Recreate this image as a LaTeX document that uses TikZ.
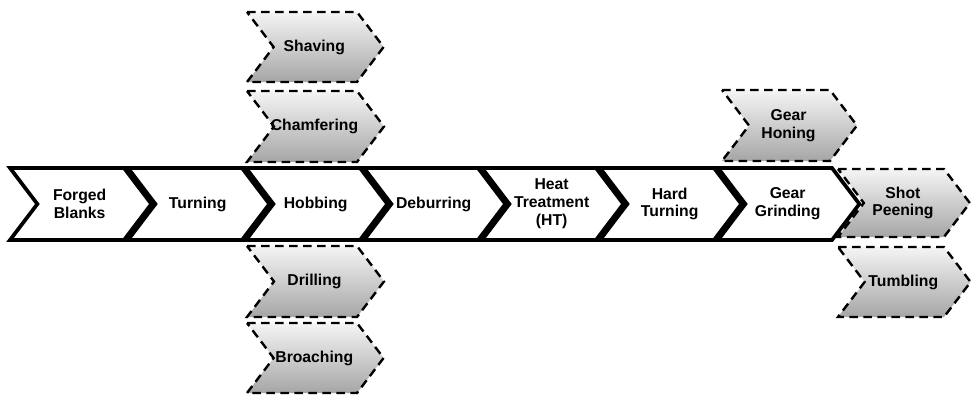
\documentclass[tikz,border=0pt]{standalone}
\usepackage{fontspec}
\setmainfont{Liberation Sans}
\usetikzlibrary{calc}

\tikzset{
  stagebox/.style={draw=black, line width=2.8pt, fill=white, line join=miter},
  optbox/.style={draw=black, line width=1.8pt, dash pattern=on 6.5pt off 4pt,
    top color=black!4, bottom color=black!35},
  stagetext/.style={font=\fontsize{11.8}{13.4}\selectfont\bfseries, align=center, inner sep=0pt}
}

% #1 name, #2 left x, #3 top y, #4 width, #5 height, #6 style, #7 text
\newcommand{\stagechev}[7]{%
  \draw[#6] (#2,#3) -- ++(#4,0) -- ++({0.38*#5},{#5/2}) -- ++({-0.38*#5},{#5/2})
    -- ++(-#4,0) -- ++({0.38*#5},{-#5/2}) -- cycle;
  \node[stagetext] (#1) at ({#2+(#4+0.38*#5)/2-1},{#3+#5/2}) {#7};}

\begin{document}
\begin{tikzpicture}[x=0.75pt,y=-0.75pt]
  \useasboundingbox (0,0) rectangle (972,394);
  % main process line
  \stagechev{forged}{10}{168}{114}{72}{stagebox}{Forged\\Blanks}
  \stagechev{turning}{128}{168}{114}{72}{stagebox}{Turning}
  \stagechev{hobbing}{246}{168}{114}{72}{stagebox}{Hobbing}
  \stagechev{deburr}{364}{168}{114}{72}{stagebox}{Deburring}
  \stagechev{heat}{482}{168}{114}{72}{stagebox}{Heat\\Treatment\\(HT)}
  \stagechev{hardturn}{600}{168}{114}{72}{stagebox}{Hard\\Turning}
  \stagechev{grinding}{718}{168}{114}{72}{stagebox}{Gear\\Grinding}
  % optional steps
  \stagechev{shaving}{247}{12}{110}{70}{optbox}{Shaving}
  \stagechev{chamfer}{247}{91}{110}{71}{optbox}{Chamfering}
  \stagechev{drilling}{247}{246}{110}{71}{optbox}{Drilling}
  \stagechev{broach}{247}{323}{110}{70}{optbox}{Broaching}
  \stagechev{honing}{722}{90}{108}{71}{optbox}{Gear\\Honing}
  \stagechev{peening}{838}{169}{106}{68}{optbox}{Shot\\Peening}
  \stagechev{tumbling}{838}{247}{106}{70}{optbox}{Tumbling}
\end{tikzpicture}
\end{document}
